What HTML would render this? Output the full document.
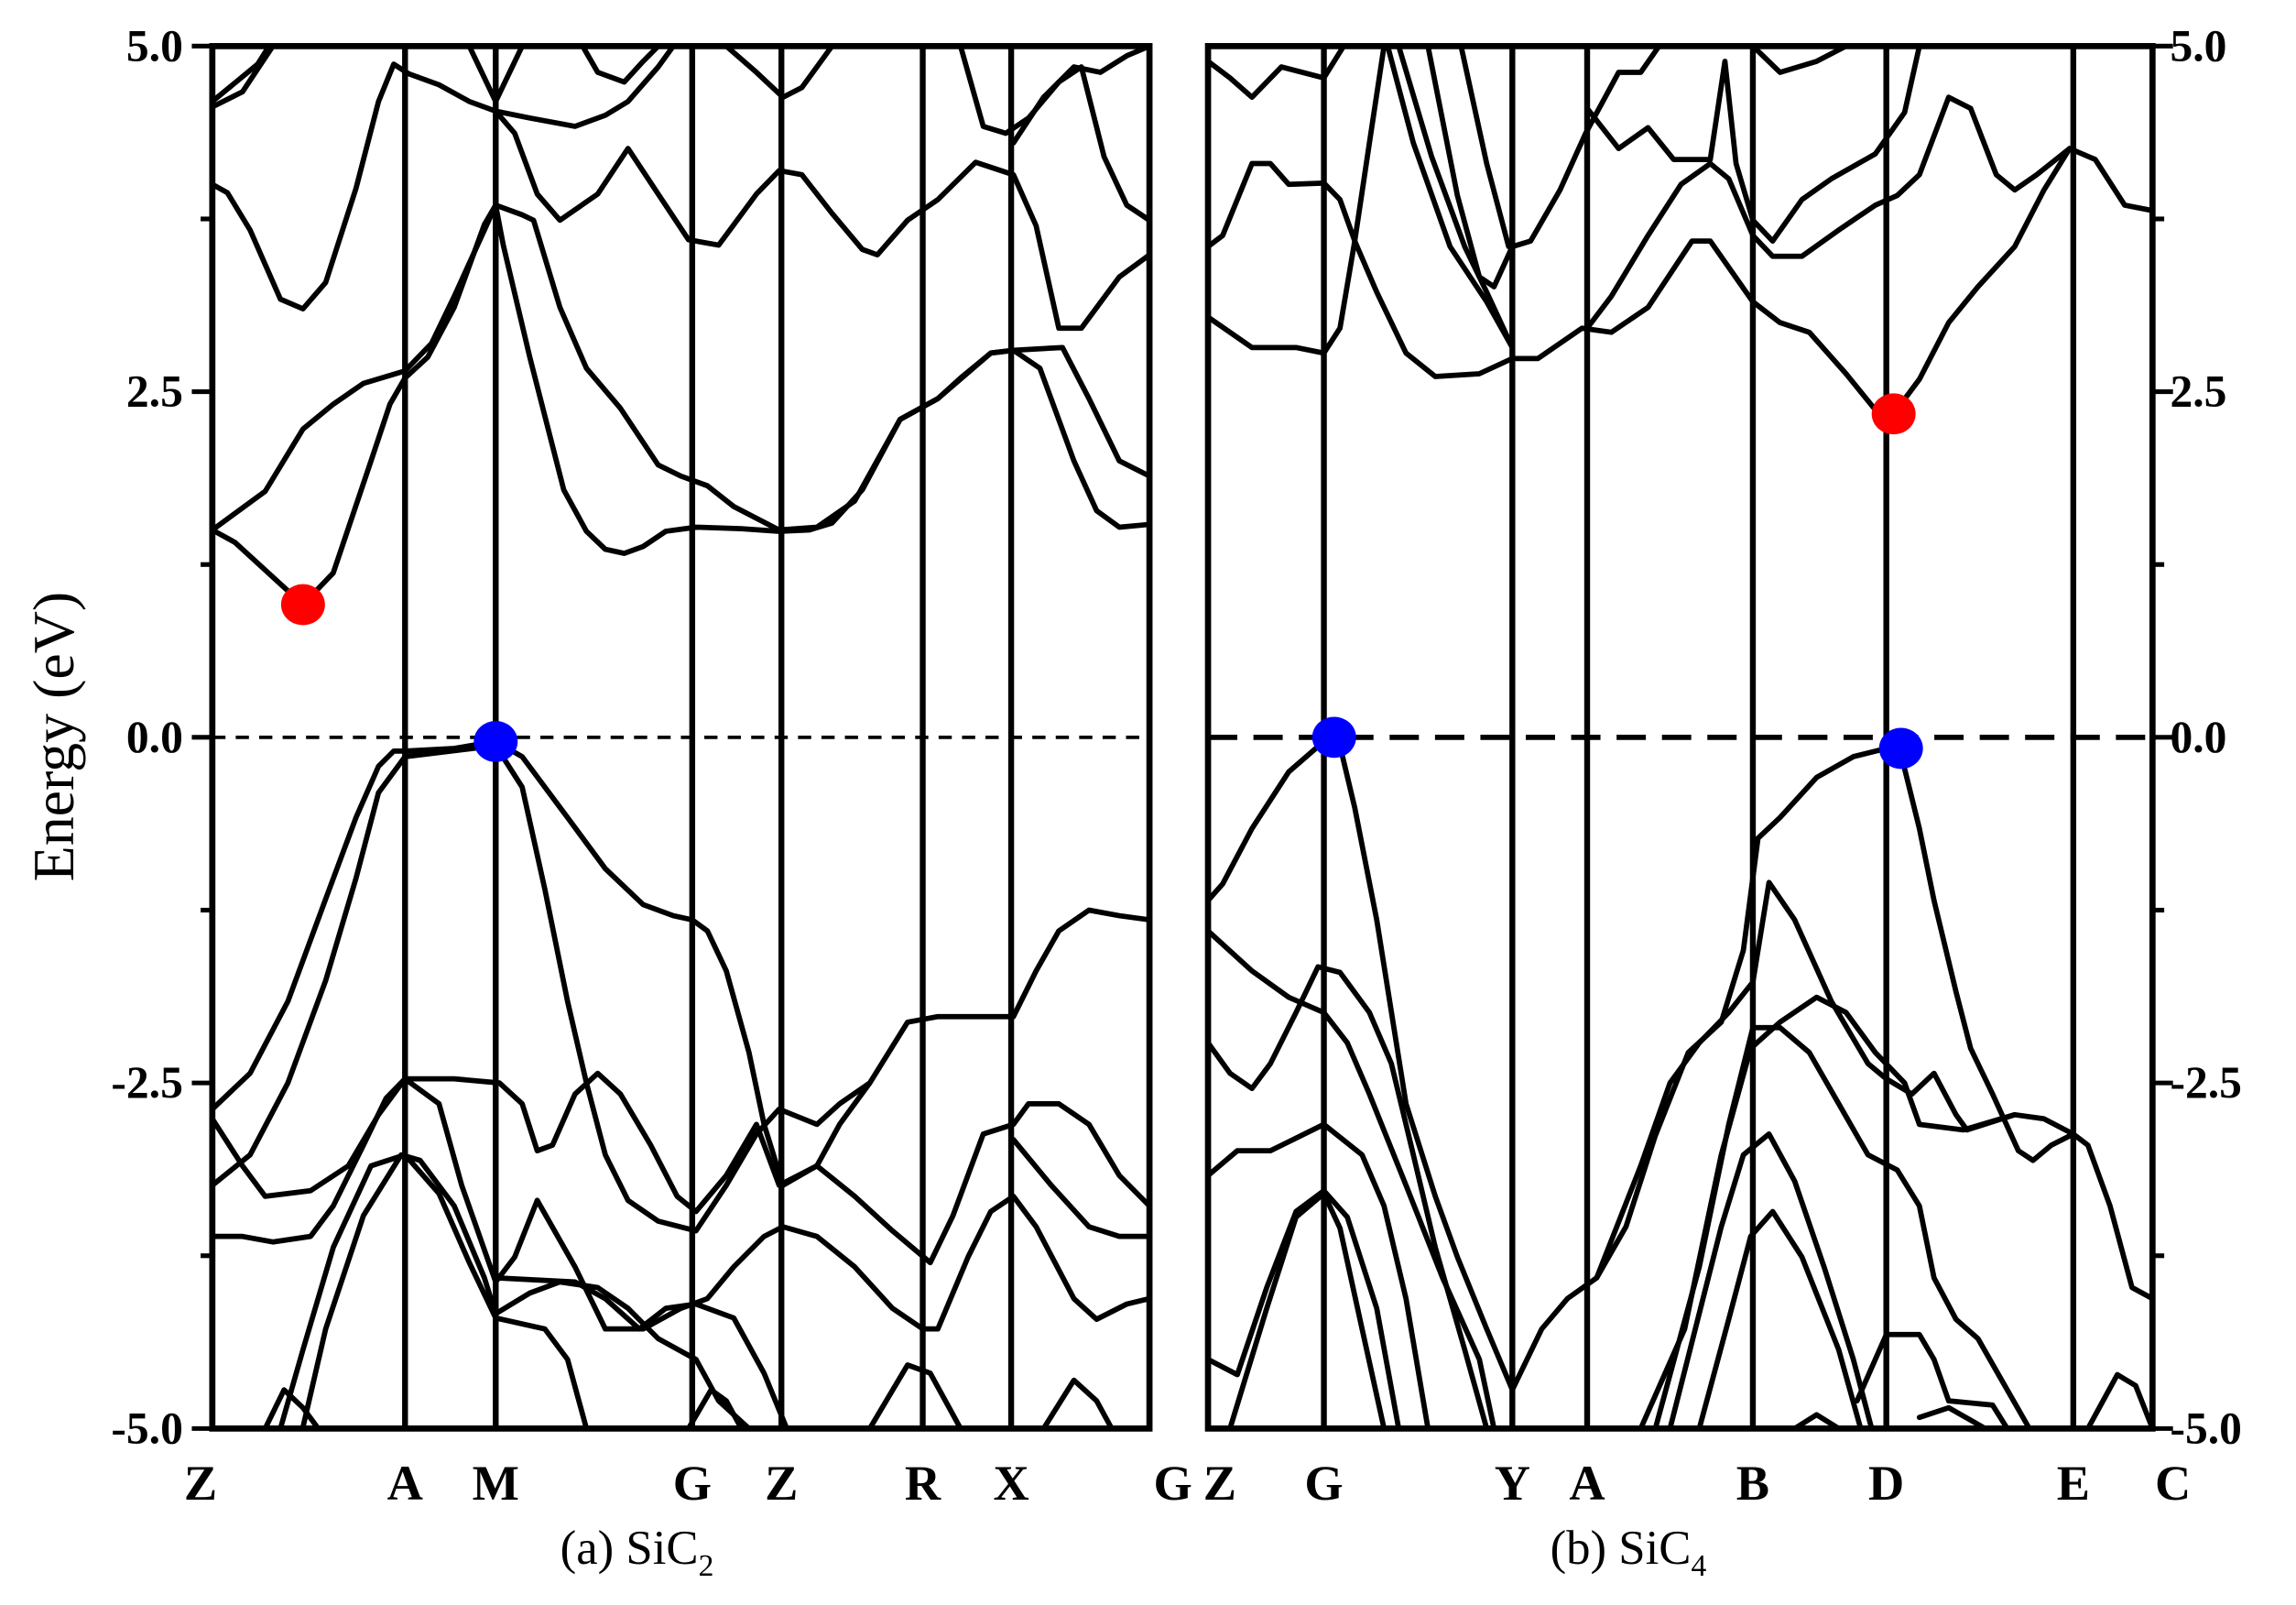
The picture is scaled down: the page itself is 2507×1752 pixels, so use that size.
<!DOCTYPE html>
<html><head><meta charset="utf-8"><style>
html,body{margin:0;padding:0;background:#fff;}
svg{display:block;}
text{font-family:"Liberation Serif",serif;fill:#000;}
</style></head><body>
<svg id="chart" width="2507" height="1752" viewBox="0 0 1568 1096" preserveAspectRatio="none" xmlns="http://www.w3.org/2000/svg">
<rect width="1568" height="1096" fill="#fff"/>
<g id="gA"></g>
<g id="gB"></g>
<text transform="translate(50,503) rotate(-90)" text-anchor="middle" font-size="40">Energy (eV)</text>
<text x="435" y="1068" text-anchor="middle" font-size="33">(a) SiC<tspan font-size="21" dy="8">2</tspan></text>
<text x="1112" y="1068" text-anchor="middle" font-size="33">(b) SiC<tspan font-size="21" dy="8">4</tspan></text>
</svg>
<script>
// ---- Panel A (SiC2) data: k-path distance (0..1240), energies in eV ----
const kLabelsA = ["Z","A","M","G","Z","R","X","G"];
const kTicksA = [0,255,375,635,753,940,1057,1240];
const eTicks = [5.0,2.5,0.0,-2.5,-5.0];
const eMinorTicks = [3.75,1.25,-1.25,-3.75];
const bandsA = [
[[0,1.50],[30,1.41],[120,0.96],[160,1.19],[210,2.0],[235,2.41],[255,2.6],[285,2.75],[320,3.11],[360,3.71],[375,3.85],[410,3.78],[425,3.74],[460,3.11],[495,2.67],[540,2.38],[590,1.97],[620,1.89],[655,1.82],[690,1.67],[750,1.50],[800,1.52],[850,1.71],[910,2.3],[960,2.45],[990,2.6],[1030,2.78],[1060,2.8],[1125,2.82],[1160,2.45],[1200,2.0],[1240,1.89]],
[[0,1.50],[70,1.78],[120,2.23],[160,2.41],[200,2.56],[255,2.65],[290,2.85],[320,3.19],[360,3.67],[375,3.85],[385,3.56],[420,2.75],[465,1.79],[495,1.49],[520,1.36],[545,1.33],[570,1.38],[600,1.49],[640,1.52],[700,1.51],[750,1.49],[790,1.5],[820,1.55],[860,1.79],[910,2.3],[960,2.45],[1030,2.78],[1060,2.8],[1095,2.67],[1140,2.0],[1170,1.64],[1200,1.52],[1240,1.54]],
[[0,4.0],[20,3.94],[50,3.67],[90,3.17],[120,3.1],[150,3.29],[190,3.97],[220,4.6],[240,4.87],[260,4.8],[300,4.72],[340,4.6],[375,4.53],[420,4.48],[480,4.42],[520,4.5],[550,4.6],[590,4.85],[610,5.0]],
[[375,4.53],[400,4.37],[430,3.93],[460,3.74],[510,3.93],[550,4.26],[590,3.93],[630,3.6],[670,3.56],[720,3.93],[750,4.1],[780,4.07],[820,3.79],[860,3.53],[880,3.49],[920,3.74],[960,3.89],[1010,4.16],[1060,4.07],[1090,3.7],[1120,2.96],[1150,2.96],[1200,3.33],[1240,3.49]],
[[0,4.56],[40,4.67],[80,5.0]],
[[0,4.6],[60,4.87],[75,5.0]],
[[340,5.0],[375,4.6],[410,5.0]],
[[490,5.0],[510,4.81],[545,4.74],[570,4.89],[590,5.0]],
[[680,5.0],[720,4.81],[755,4.63],[780,4.7],[820,5.0]],
[[990,5.0],[1020,4.42],[1050,4.37],[1080,4.48],[1120,4.74],[1150,4.85],[1180,4.2],[1210,3.85],[1240,3.74]],
[[1060,4.3],[1100,4.63],[1140,4.85],[1175,4.81],[1210,4.93],[1240,5.0]],
// valence
[[0,-2.69],[50,-2.43],[100,-1.91],[150,-1.17],[190,-0.58],[220,-0.21],[240,-0.10],[255,-0.10],[320,-0.08],[375,-0.03],[410,-0.14],[470,-0.58],[520,-0.95],[570,-1.21],[610,-1.29],[635,-1.32],[655,-1.40],[680,-1.69],[710,-2.28],[730,-2.8],[755,-3.24],[800,-3.1],[830,-2.8],[870,-2.5],[920,-2.06],[960,-2.02],[1020,-2.02],[1060,-2.02],[1090,-1.69],[1120,-1.4],[1160,-1.25],[1200,-1.29],[1240,-1.32]],
[[0,-3.24],[50,-3.02],[100,-2.5],[150,-1.76],[190,-1.02],[220,-0.4],[255,-0.14],[375,-0.06],[410,-0.36],[440,-1.1],[470,-1.91],[495,-2.5],[520,-3.02],[550,-3.35],[590,-3.5],[640,-3.57],[680,-3.24],[720,-2.87],[750,-2.69],[800,-2.8],[830,-2.65],[870,-2.5]],
[[0,-2.76],[40,-3.1],[70,-3.32],[130,-3.28],[180,-3.1],[220,-2.73],[255,-2.47],[300,-2.65],[330,-3.24],[375,-3.94],[400,-3.76],[430,-3.35],[480,-3.83],[520,-4.28],[570,-4.28],[620,-4.13],[655,-4.06],[690,-3.83],[730,-3.61],[755,-3.54],[800,-3.61],[850,-3.83],[900,-4.13],[940,-4.28],[960,-4.28],[1000,-3.76],[1030,-3.43],[1060,-3.32],[1090,-3.54],[1140,-4.06],[1170,-4.21],[1210,-4.1],[1240,-4.06]],
[[0,-3.61],[40,-3.61],[80,-3.65],[130,-3.61],[160,-3.39],[200,-2.95],[230,-2.61],[255,-2.47],[320,-2.47],[380,-2.5],[410,-2.65],[430,-2.99],[450,-2.95],[480,-2.58],[510,-2.43],[540,-2.58],[580,-2.95],[615,-3.32],[640,-3.43],[680,-3.17],[720,-2.8],[750,-3.24],[800,-3.1],[850,-3.32],[900,-3.57],[950,-3.8],[980,-3.46],[1020,-2.87],[1060,-2.8],[1080,-2.65],[1120,-2.65],[1160,-2.8],[1200,-3.17],[1240,-3.39]],
[[1060,-2.91],[1110,-3.24],[1160,-3.54],[1200,-3.61],[1240,-3.61]],
[[120,-4.99],[150,-4.28],[200,-3.46],[250,-3.02],[275,-3.06],[320,-3.39],[360,-3.91],[375,-4.17],[420,-4.02],[460,-3.94],[510,-3.98],[550,-4.13],[590,-4.35],[640,-4.5],[670,-4.8],[710,-5.0]],
[[90,-5.0],[120,-4.43],[160,-3.69],[210,-3.1],[255,-3.02],[300,-3.3],[340,-3.8],[375,-4.2],[440,-4.28],[470,-4.5],[495,-5.0]],
[[375,-3.91],[480,-3.94],[520,-4.06],[565,-4.28],[600,-4.13],[640,-4.1],[690,-4.2],[730,-4.6],[760,-5.0]],
[[70,-5.0],[95,-4.72],[120,-4.85],[140,-5.0]],
[[630,-5.0],[660,-4.72],[680,-4.8],[700,-5.0]],
[[870,-5.0],[920,-4.54],[950,-4.6],[990,-5.0]],
[[1100,-5.0],[1140,-4.65],[1170,-4.8],[1190,-5.0]]
];
const cbmA = [120,0.96];
const vbmA = [375,-0.03];

// ---- Panel B (SiC4) data: k-path distance (0..1288), energies in eV ----
const kLabelsB = ["Z","G","Y","A","B","D","E","C"];
const kTicksB = [0,158,415,517,743,925,1180,1288];
const bandsB = [
[[0,3.04],[60,2.82],[120,2.82],[158,2.78],[180,2.96],[200,3.59],[230,3.22],[270,2.78],[310,2.61],[370,2.63],[415,2.74],[450,2.74],[510,2.96],[550,2.93],[600,3.11],[660,3.59],[685,3.59],[743,3.15],[780,3.0],[820,2.93],[870,2.63],[910,2.37],[935,2.34],[970,2.59],[1010,3.0],[1050,3.26],[1100,3.55],[1140,3.96],[1175,4.26],[1210,4.18],[1250,3.85],[1288,3.81]],
[[0,3.55],[20,3.63],[60,4.15],[85,4.15],[110,4.0],[158,4.01],[180,3.89],[200,3.59],[220,4.3],[240,5.0]],
[[245,5.0],[280,4.3],[330,3.55],[380,3.15],[415,2.82]],
[[260,5.0],[305,4.2],[350,3.55],[380,3.22],[415,2.82]],
[[300,5.0],[340,3.92],[370,3.33],[390,3.26],[415,3.55],[440,3.59],[480,3.96],[515,4.37],[560,4.81],[590,4.81],[615,5.0]],
[[345,5.0],[380,4.15],[410,3.55]],
[[517,4.55],[560,4.26],[600,4.41],[635,4.18],[685,4.18],[705,4.89],[720,4.15],[743,3.74],[770,3.59],[810,3.89],[850,4.04],[910,4.22],[950,4.52],[970,5.0]],
[[517,2.96],[550,3.19],[600,3.63],[645,4.0],[685,4.15],[710,4.04],[743,3.63],[770,3.48],[810,3.48],[860,3.67],[910,3.85],[940,3.92],[970,4.07],[1010,4.63],[1040,4.55],[1075,4.07],[1100,3.96],[1130,4.07],[1175,4.26]],
[[0,4.89],[30,4.77],[60,4.63],[100,4.85],[158,4.77],[185,5.0]],
[[743,5.0],[780,4.81],[830,4.89],[870,5.0]],
// valence
[[0,-1.18],[20,-1.06],[60,-0.66],[110,-0.25],[158,-0.03],[180,-0.06],[200,-0.51],[230,-1.32],[270,-2.65],[310,-3.32],[340,-3.76],[380,-4.28],[415,-4.72],[455,-4.28],[490,-4.06],[530,-3.91],[570,-3.54],[610,-2.88],[655,-2.28],[700,-2.06],[730,-1.54],[750,-0.73],[780,-0.58],[830,-0.29],[880,-0.14],[925,-0.08],[945,-0.12],[970,-0.66],[990,-1.18],[1020,-1.84],[1040,-2.25],[1070,-2.58],[1105,-2.99],[1125,-3.06],[1150,-2.95],[1180,-2.87],[1200,-2.95],[1230,-3.39],[1260,-3.98],[1288,-4.06]],
[[0,-1.4],[60,-1.69],[110,-1.88],[158,-1.99],[190,-2.21],[220,-2.58],[270,-3.24],[320,-3.91],[370,-4.5],[390,-5.0]],
[[0,-2.21],[30,-2.43],[60,-2.54],[85,-2.36],[120,-1.99],[150,-1.66],[180,-1.7],[220,-1.99],[250,-2.36],[280,-3.02],[310,-3.69],[350,-4.43],[380,-5.0]],
[[0,-3.17],[40,-2.99],[85,-2.99],[158,-2.8],[210,-3.02],[240,-3.39],[270,-4.06],[300,-5.0]],
[[0,-4.5],[40,-4.61],[80,-3.98],[120,-3.43],[158,-3.28],[190,-3.47],[230,-4.13],[260,-5.0]],
[[30,-5.0],[80,-4.13],[120,-3.47],[158,-3.3],[180,-3.55],[210,-4.28],[240,-5.0]],
[[590,-5.0],[650,-4.28],[700,-3.02],[740,-2.25],[780,-2.06],[830,-1.88],[870,-1.99],[910,-2.28],[950,-2.5],[970,-2.8],[1030,-2.84],[1100,-2.73],[1140,-2.76],[1180,-2.87]],
[[610,-5.0],[670,-3.83],[710,-2.8],[743,-2.1],[780,-2.1],[820,-2.28],[860,-2.65],[900,-3.02],[940,-3.13],[970,-3.39],[990,-3.91],[1020,-4.21],[1050,-4.35],[1090,-4.72],[1120,-5.0]],
[[630,-5.0],[700,-3.54],[730,-3.02],[765,-2.87],[800,-3.21],[840,-3.83],[880,-4.5],[905,-5.0]],
[[670,-5.0],[710,-4.21],[740,-3.61],[770,-3.43],[810,-3.76],[860,-4.43],[890,-5.0]],
[[530,-3.91],[590,-3.1],[630,-2.5],[670,-2.21],[710,-1.99],[743,-1.77],[765,-1.05],[800,-1.32],[850,-1.91],[900,-2.36],[925,-2.47],[960,-2.58],[990,-2.43],[1020,-2.73],[1035,-2.84],[1100,-2.73]],
[[885,-4.8],[925,-4.32],[970,-4.32],[990,-4.5],[1010,-4.8],[1070,-4.83],[1090,-5.0]],
[[1200,-5.0],[1240,-4.61],[1265,-4.69],[1288,-5.0]],
[[970,-4.92],[1010,-4.85],[1060,-5.0]],
[[800,-5.0],[830,-4.9],[860,-5.0]]
];
const cbmB = [935,2.34];
const vbmB = [[172,0.0],[945,-0.08]];

const NS = "http://www.w3.org/2000/svg";
function mk(tag, attrs, parent){const e=document.createElementNS(NS,tag);for(const k in attrs)e.setAttribute(k,attrs[k]);parent.appendChild(e);return e;}
const Y0 = 31.5, Y1 = 975.5;
function yS(E){return Y0 + (5 - E) / 10 * (Y1 - Y0);}

function drawPanel(g, x0, x1, kMax, ticks, labels, bands, cbm, vbms, side, tag){
  const xS = k => x0 + k / kMax * (x1 - x0);
  bands.forEach((b, i) => {
    const p = mk("polyline", {points: b.map(d => xS(d[0]).toFixed(1) + "," + yS(Math.max(-5, Math.min(5, d[1]))).toFixed(1)).join(" "), fill: "none", stroke: "#000", "stroke-width": 3.6, "stroke-linejoin": "round", "stroke-linecap": "round"}, g);
    
    
  });
  const f = mk("line", {x1: x0, x2: x1, y1: yS(0), y2: yS(0), stroke: "#000", "stroke-width": tag === "a" ? 2.4 : 3.6, "stroke-dasharray": tag === "a" ? "9,7" : "20,11"}, g);
  
  
  ticks.forEach((k, i) => {
    if (i > 0 && i < ticks.length - 1) {
      const l = mk("line", {x1: xS(k), x2: xS(k), y1: Y0, y2: Y1, stroke: "#000", "stroke-width": 4}, g);
      
      
    }
    let lx = xS(k);
    if (i === 0) lx += tag === "a" ? -8 : 8;
    if (i === ticks.length - 1) lx += tag === "a" ? 16 : 14;
    const t = mk("text", {x: lx, y: 1024, "text-anchor": "middle", "font-size": 34, "font-weight": "bold"}, g);
    t.textContent = labels[i];
    
    
  });
  const r = mk("rect", {x: x0, y: Y0, width: x1 - x0, height: Y1 - Y0, fill: "none", stroke: "#000", "stroke-width": 4.2}, g);
  
  
  const ax = side === "left" ? x0 : x1, dir = side === "left" ? -1 : 1;
  eTicks.forEach(E => {
    const tk = mk("line", {x1: ax, x2: ax + dir * 14, y1: yS(E), y2: yS(E), stroke: "#000", "stroke-width": 3.2}, g);
    
    
    const t = mk("text", {x: side === "left" ? x0 - 20 : x1 + 12, y: yS(E) + 10, "text-anchor": side === "left" ? "end" : "start", "font-size": 31, "font-weight": "bold"}, g);
    t.textContent = E.toFixed(1);
    
    
  });
  eMinorTicks.forEach(E => {
    const tk = mk("line", {x1: ax, x2: ax + dir * 8, y1: yS(E), y2: yS(E), stroke: "#000", "stroke-width": 3.2}, g);
    
    
  });
  const c = mk("ellipse", {cx: xS(cbm[0]), cy: yS(cbm[1]), rx: 15, ry: 14, fill: "#ff0000"}, g);
  
  
  vbms.forEach(v => {
    const b = mk("ellipse", {cx: xS(v[0]), cy: yS(v[1]), rx: 15, ry: 14, fill: "#0000ff"}, g);
    
    
  });
}
drawPanel(document.getElementById("gA"), 145, 785, 1240, kTicksA, kLabelsA, bandsA, cbmA, [vbmA], "left", "a");
drawPanel(document.getElementById("gB"), 825, 1470, 1288, kTicksB, kLabelsB, bandsB, cbmB, vbmB, "right", "b");
</script>
</body></html>
